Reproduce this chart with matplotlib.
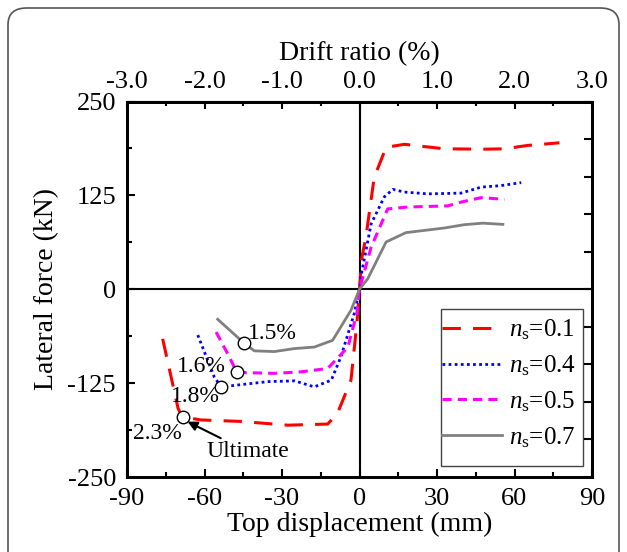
import numpy as np
import matplotlib
matplotlib.use("Agg")
import matplotlib.pyplot as plt
from matplotlib.patches import FancyBboxPatch, Rectangle
from matplotlib.ticker import MultipleLocator, FormatStrFormatter

plt.rcParams['font.family'] = ['Liberation Serif', 'DejaVu Serif']
plt.rcParams['mathtext.fontset'] = 'custom'
plt.rcParams['mathtext.rm'] = 'Liberation Serif'
plt.rcParams['mathtext.it'] = 'Liberation Serif:italic'
plt.rcParams['axes.unicode_minus'] = False

# ── Data ──────────────────────────────────────────────────────────────────────
x_01 = [-76.2, -70.2, -68.5, -61.4, -45.9, -27.8, -12.3, -8.5, -3.3, -1.0, 0.0,
        0.8, 2.5, 5.7, 10.3, 17.4, 32.9, 48.4, 56.1, 65.1, 77.4]
y_01 = [-66, -159, -170, -174, -176, -181, -179.5, -165, -121, -45, 0,
        40, 70, 149, 189, 193, 187, 186.5, 187, 191.5, 195]

x_04 = [-62.6, -56.2, -53.5, -48.4, -35.5, -25.1, -17.5, -10.9, -7.2, -2.0, 0.0,
        0.5, 4.5, 9.6, 12.9, 17.4, 26.4, 39.3, 47.1, 54.8, 62.6]
y_04 = [-61, -117, -130, -128, -123, -122, -130, -121, -90, -32, 0,
        16, 87, 123, 133, 129.4, 127, 128, 136, 138, 142]

x_05 = [-55.5, -50.4, -47.6, -44.6, -33.0, -22.7, -12.3, -4.5, -1.0, 0.0,
        4.5, 10.9, 18.7, 34.2, 39.3, 47.1, 56.1]
y_05 = [-57, -90, -110, -111, -112, -110, -105.5, -77, -32, 0,
        56, 107, 109.5, 111, 116, 122, 119.7]

x_07 = [-54.9, -44.6, -40.7, -33.0, -25.2, -17.5, -10.4, -3.3, 0.0,
        3.2, 10.3, 18.0, 32.9, 40.6, 47.7, 55.5]
y_07 = [-40, -72, -82, -83, -79, -77, -68, -28, 0,
        14, 63, 75.4, 81.6, 86, 88, 86.4]

ult_x = [-68.5, -53.5, -47.6, -44.6]
ult_y = [-170, -130, -110, -72]
ult_labels = ['2.3%', '1.8%', '1.6%', '1.5%']

HEIGHT = 3000.0  # mm, drift ratio = disp / HEIGHT * 100

# ── Figure ───────────────────────────────────────────────────────────────────
fig = plt.figure(figsize=(6.27, 5.52), dpi=100)
ax = fig.add_axes([127/627, 1 - 477/552, 465/627, 375.5/552])

# rounded frame around the whole figure
frame = FancyBboxPatch((8/627, -0.05), 611/627, 1.05 - 8/552,
                       boxstyle='round,pad=0,rounding_size=0.03',
                       transform=fig.transFigure, fill=False,
                       edgecolor='#555555', linewidth=1.2)
fig.patches.append(frame)

ax.axhline(0, color='black', lw=1.5, zorder=1)
ax.axvline(0, color='black', lw=1.5, zorder=1)

ax.plot(x_01, y_01, color='red', lw=2.2, dashes=(6, 4), label=r'$n_\mathrm{s}$=0.1')
ax.plot(x_04, y_04, color='blue', lw=2.0, linestyle=(0, (1, 1.2)), label=r'$n_\mathrm{s}$=0.4')
ax.plot(x_05, y_05, color='magenta', lw=2.2, dashes=(3, 2), label=r'$n_\mathrm{s}$=0.5')
ax.plot(x_07, y_07, color='gray', lw=2.0, label=r'$n_\mathrm{s}$=0.7')

ax.plot(ult_x, ult_y, 'o', ms=9, mfc='white', mec='black', mew=1.0, zorder=5)

ax.text(-87.8, -191.5, ult_labels[0], fontsize=17, va='center', ha='left')
ax.text(-73.0, -143, ult_labels[1], fontsize=17, va='center', ha='left')
ax.text(-51.7, -103, ult_labels[2], fontsize=17, va='center', ha='right')
ax.text(-43.2, -58.5, ult_labels[3], fontsize=17, va='center', ha='left')
ax.annotate('Ultimate', xy=(-68.5, -173), xytext=(-59.4, -216),
            fontsize=17, va='center', ha='left',
            arrowprops=dict(arrowstyle='-|>', color='black', lw=1.5,
                            mutation_scale=14, shrinkA=0, shrinkB=4))

ax.set_xlim(-90, 90)
ax.set_ylim(-250, 250)
ax.xaxis.set_major_locator(MultipleLocator(30))
ax.xaxis.set_minor_locator(MultipleLocator(15))
ax.yaxis.set_major_locator(MultipleLocator(125))
ax.yaxis.set_minor_locator(MultipleLocator(62.5))
ax.tick_params(which='both', direction='in', width=1.5, labelsize=19, top=False, right=False)
ax.tick_params(which='major', length=6, pad=8)
ax.tick_params(which='minor', length=3.5)
for s in ax.spines.values():
    s.set_linewidth(2.0)

ax.set_xlabel('Top displacement (mm)', fontsize=20, labelpad=1)
ax.set_ylabel('Lateral force (kN)', fontsize=20, labelpad=6)

# top drift-ratio axis
top = ax.secondary_xaxis('top', functions=(lambda x: x / HEIGHT * 100,
                                           lambda d: d * HEIGHT / 100))
top.xaxis.set_major_locator(MultipleLocator(1.0))
top.xaxis.set_minor_locator(MultipleLocator(0.5))
top.xaxis.set_major_formatter(FormatStrFormatter('%.1f'))
top.tick_params(which='both', direction='in', width=1.5, labelsize=19)
top.tick_params(which='major', length=6, pad=6)
top.tick_params(which='minor', length=3.5)
top.set_xlabel('Drift ratio (%)', fontsize=20, labelpad=8)

# right side ticks
right = ax.twinx()
right.set_ylim(-250, 250)
right.yaxis.set_major_locator(MultipleLocator(50))
right.tick_params(direction='in', width=1.5, length=6, labelright=False)
for s in right.spines.values():
    s.set_linewidth(2.0)

# legend box drawn by hand, entries without frame
ax.add_patch(Rectangle((0.675, 0.029), 0.306, 0.418, transform=ax.transAxes,
                       fill=True, facecolor='white', edgecolor='#444444',
                       lw=1.0, zorder=6))
leg = ax.legend(loc='upper left', bbox_to_anchor=(0.678, 0.425), fontsize=18,
                frameon=False, handlelength=2.4, handletextpad=0.25,
                labelspacing=0.45, borderaxespad=0, borderpad=0)
leg.set_zorder(7)

fig.savefig('out.png', dpi=100)
